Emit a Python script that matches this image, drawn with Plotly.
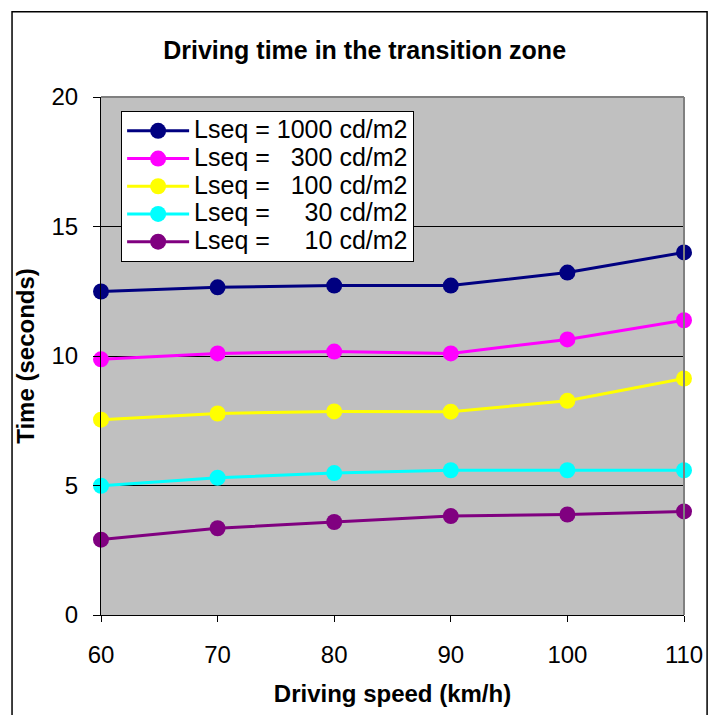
import plotly.graph_objects as go

speeds = [60, 70, 80, 90, 100, 110]
lseq_1000 = [12.49, 12.65, 12.72, 12.72, 13.22, 14.00]
lseq_300 = [9.87, 10.10, 10.17, 10.10, 10.64, 11.38]
lseq_100 = [7.54, 7.78, 7.86, 7.85, 8.27, 9.13]
lseq_30 = [4.99, 5.30, 5.48, 5.59, 5.59, 5.59]
lseq_10 = [2.91, 3.35, 3.59, 3.82, 3.88, 4.00]

series_names = [
    "Lseq = 1000 cd/m2",
    "Lseq = \u2007300 cd/m2",
    "Lseq = \u2007100 cd/m2",
    "Lseq = \u2007\u200730 cd/m2",
    "Lseq = \u2007\u200710 cd/m2",
]
series_values = [lseq_1000, lseq_300, lseq_100, lseq_30, lseq_10]
series_colors = ["#000080", "#FF00FF", "#FFFF00", "#00FFFF", "#800080"]

FONT = "Arial, Liberation Sans, sans-serif"

fig = go.Figure()
for name, vals, col in zip(series_names, series_values, series_colors):
    fig.add_trace(go.Scatter(
        x=speeds, y=vals, mode="lines+markers",
        name='<span style="font-size:25px">' + name + '</span>',
        line=dict(color=col, width=3),
        marker=dict(color=col, size=16),
        cliponaxis=False,
    ))

fig.update_layout(
    width=715, height=715,
    margin=dict(l=101, r=26, t=97, b=98),
    paper_bgcolor="white",
    plot_bgcolor="#C0C0C0",
    font=dict(family=FONT, color="black", size=24),
    title=dict(
        text="<b>Driving time in the transition zone</b>",
        font=dict(family=FONT, size=25, color="black"),
        x=0.51, xref="container", xanchor="center",
        y=0.93, yref="container", yanchor="middle",
    ),
    showlegend=True,
    legend=dict(
        x=0.0345, y=0.973, xanchor="left", yanchor="top",
        bgcolor="white", bordercolor="black", borderwidth=1,
        font=dict(family=FONT, size=19, color="black"),
        itemwidth=62,
        tracegroupgap=0,
    ),
    xaxis=dict(
        range=[60, 110], tickvals=speeds, ticktext=[str(s) for s in speeds],
        showgrid=False, zeroline=False,
        showline=True, linecolor="black", linewidth=1,
        ticks="outside", ticklen=6, tickcolor="black",
        ticklabelstandoff=12,
        tickfont=dict(size=24),
        title=dict(text="<b>Driving speed (km/h)</b>", font=dict(size=24), standoff=18),
    ),
    yaxis=dict(
        range=[0, 20], tickvals=[0, 5, 10, 15, 20],
        showgrid=True, gridcolor="black", gridwidth=1,
        zeroline=False,
        showline=True, linecolor="black", linewidth=1,
        ticks="outside", ticklen=7, tickcolor="black",
        ticklabelstandoff=10,
        tickfont=dict(size=24),
        title=dict(text="<b>Time (seconds)</b>", font=dict(size=24), standoff=10),
    ),
    shapes=[
        dict(type="line", xref="paper", yref="paper", x0=0, x1=1, y0=1, y1=1,
             line=dict(color="#808080", width=2), layer="above"),
        dict(type="line", xref="paper", yref="paper", x0=1, x1=1, y0=0, y1=1,
             line=dict(color="#808080", width=2), layer="above"),
        dict(type="rect", xref="paper", yref="paper",
             x0=-0.1526, x1=1.0396, y0=-0.25, y1=1.1648,
             line=dict(color="black", width=1.5), fillcolor="rgba(0,0,0,0)", layer="below"),
    ],
)

fig.write_html("out.html")
